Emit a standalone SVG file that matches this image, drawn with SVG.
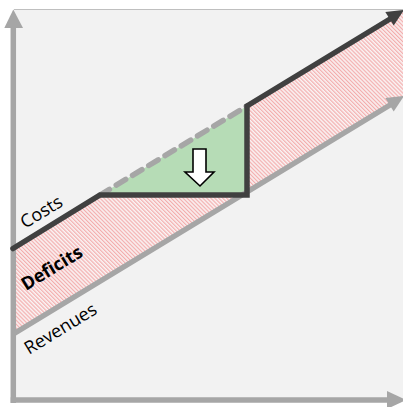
<svg xmlns="http://www.w3.org/2000/svg" width="403" height="407" viewBox="0 0 403 407">
<defs>
<pattern id="hatch" width="2.8" height="4" patternUnits="userSpaceOnUse" patternTransform="rotate(-45)">
<rect width="2.8" height="4" fill="#faf3f3"/>
<rect x="0" y="0" width="1.2" height="4" fill="#f3adad"/>
</pattern>
<style>
.axis{stroke:#a6a6a6;stroke-width:5.5;fill:none}
.cost{stroke:#404040;stroke-width:5.5;fill:none;stroke-linejoin:miter;stroke-linecap:round}
.rev{stroke:#a6a6a6;stroke-width:5.5;fill:none;stroke-linecap:round}
.lbl{font-family:"Open Sans","Liberation Sans",sans-serif;font-size:18px;fill:#000}
</style>
</defs>
<rect x="14" y="9" width="389" height="391" fill="#f2f2f2"/>
<line x1="14" y1="9.5" x2="403" y2="9.5" stroke="#bfbfbf" stroke-width="1"/>
<g id="deficit-area">
<polygon points="13,248 100,195 247,195 247,106 403,11 403,97 13,334" fill="url(#hatch)"/>
</g>
<g id="saving-area">
<polygon points="100,195 247,106 247,195" fill="#b6dcb6"/>
</g>
<g id="axes">
<line class="axis" x1="13.3" y1="403" x2="13.3" y2="26"/>
<polygon points="13.3,9.5 4.3,28 23,28" fill="#a6a6a6"/>
<line class="axis" x1="10.7" y1="400" x2="388" y2="400"/>
<polygon points="406,400 387,391 387,409" fill="#a6a6a6"/>
</g>
<g id="connectors">
<line x1="100" y1="195" x2="247" y2="106" stroke="#a6a6a6" stroke-width="5.5" stroke-dasharray="11 8" stroke-linecap="round"/>
<line class="rev" x1="15" y1="333" x2="390" y2="105"/>
<polygon points="404,96 393.7,111.6 385.3,98" fill="#a6a6a6"/>
<polyline class="cost" points="13,248.5 100,195 247,195 247,106 390,19"/>
<polygon points="404,10 393.7,25.6 385.3,12" fill="#404040"/>
</g>
<g id="down-arrow">
<polygon points="193,149 206,149 206,172 214,172 200,186 185,172 193,172" fill="#ffffff" stroke="#000" stroke-width="1.6" stroke-linejoin="miter"/>
</g>
<g id="labels">
<text class="lbl" x="25" y="229" transform="rotate(-31.3 25 229)">Costs</text>
<text class="lbl" x="26" y="291" font-weight="bold" transform="rotate(-31.3 26 291)">Deficits</text>
<text class="lbl" x="29" y="355" transform="rotate(-31.3 29 355)">Revenues</text>
</g>
</svg>
